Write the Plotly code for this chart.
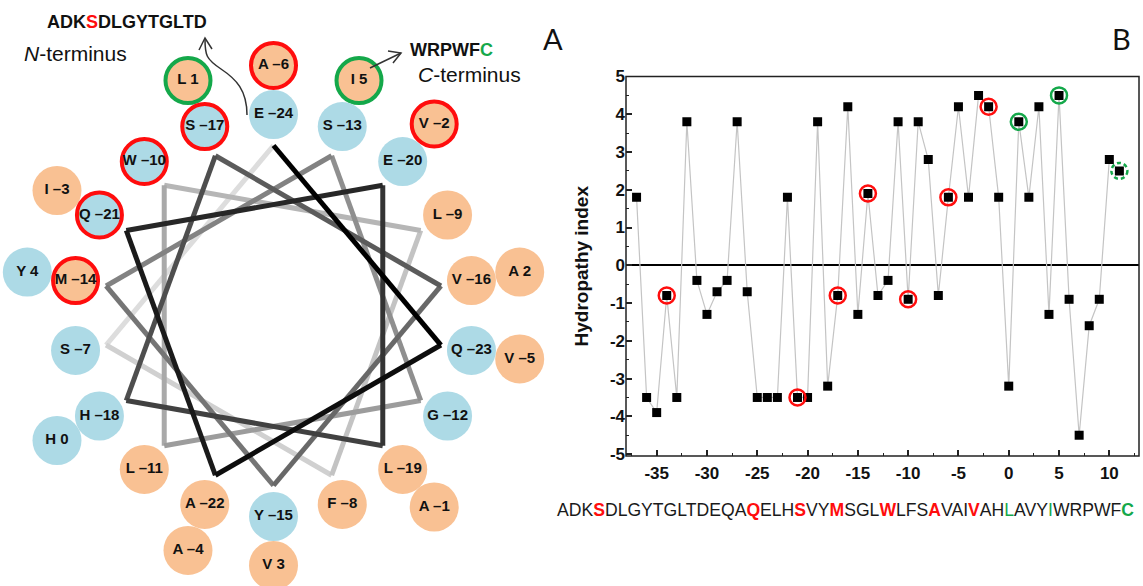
import numpy as np
import plotly.graph_objects as go

# ---------------- data ----------------
sequence = "ADKSDLGYTGLTDEQAQELHSVYMSGLWLFSAVAIVAHLAVYIWRPWFC"
positions = list(range(-37, 12))
hydropathy = [1.8, -3.5, -3.9, -0.8, -3.5, 3.8, -0.4, -1.3, -0.7, -0.4,
              3.8, -0.7, -3.5, -3.5, -3.5, 1.8, -3.5, -3.5, 3.8, -3.2,
              -0.8, 4.2, -1.3, 1.9, -0.8, -0.4, 3.8, -0.9, 3.8, 2.8,
              -0.8, 1.8, 4.2, 1.8, 4.5, 4.2, 1.8, -3.2, 3.8, 1.8,
              4.2, -1.3, 4.5, -0.9, -4.5, -1.6, -0.9, 2.8, 2.5]
red_sites = [-34, -21, -17, -14, -10, -6, -2]
green_sites = [1, 5]
green_dashed_sites = [11]
wheel_first, wheel_last = -24, 5
hydrophobic = set("AVILMF")
x_ticks = [-35, -30, -25, -20, -15, -10, -5, 0, 5, 10]
y_ticks = [-5, -4, -3, -2, -1, 0, 1, 2, 3, 4, 5]

# ---------------- styles ----------------
W, H = 1143, 586
RED = "#ff0d0d"
GREEN = "#14a84a"
PEACH = "#f9c193"
BLUE = "#addae6"
FONT = "Liberation Sans, Arial, sans-serif"

fig = go.Figure()

# ---------------- panel A : helical wheel ----------------
aa_of = dict(zip(positions, sequence))
hyd_of = dict(zip(positions, hydropathy))
cx, cy = 273.5, 315.5
r_vertex, r_inner, r_outer = 170, 201, 250
wheel = list(range(wheel_first, wheel_last + 1))
n_turn = 18


def angle(res):
    return np.deg2rad(-90 + 100 * (res - wheel_first))


def point(res, r):
    a = angle(res)
    return cx + r * np.cos(a), cy + r * np.sin(a)


# connecting path, dark at the start of the wheel and fading out
path_res = wheel[: n_turn + 1]
n_seg = len(path_res) - 1
for k in reversed(range(n_seg)):
    g = int(round(0 + 221 * k / (n_seg - 1)))
    p0 = point(path_res[k], r_vertex)
    p1 = point(path_res[k + 1], r_vertex)
    fig.add_trace(go.Scatter(
        x=[p0[0], p1[0]], y=[p0[1], p1[1]], mode="lines",
        line=dict(color=f"rgb({g},{g},{g})", width=5),
        xaxis="x2", yaxis="y2", hoverinfo="skip"))


def ring_trace(res_list, radius):
    xs, ys, fills, edges, widths, sizes, labels = [], [], [], [], [], [], []
    for r in res_list:
        px, py = point(r, radius)
        xs.append(px)
        ys.append(py)
        aa = aa_of[r]
        fills.append(PEACH if aa in hydrophobic else BLUE)
        if r in red_sites:
            edges.append(RED); widths.append(4); sizes.append(45)
        elif r in green_sites:
            edges.append(GREEN); widths.append(4); sizes.append(45)
        else:
            edges.append("rgba(0,0,0,0)"); widths.append(0); sizes.append(49)
        num = f"\u2013{abs(r)}" if r < 0 else f"{r}"
        labels.append(f"{aa} {num}")
    return go.Scatter(
        x=xs, y=ys, mode="markers+text", text=labels,
        textposition="middle center",
        textfont=dict(family=FONT, size=15, color="#111", weight="bold"),
        marker=dict(size=sizes, color=fills, opacity=1,
                    line=dict(color=edges, width=widths)),
        xaxis="x2", yaxis="y2", hoverinfo="skip")


outer = [r for r in wheel if r - wheel_first >= n_turn]
inner = [r for r in wheel if r - wheel_first < n_turn]
fig.add_trace(ring_trace(outer, r_outer))
fig.add_trace(ring_trace(inner, r_inner))

# N / C terminus notes
n_part = "".join(
    f"<span style='color:{RED}'>{aa_of[p]}</span>" if p in red_sites else aa_of[p]
    for p in positions if p < wheel_first)
c_part = "".join(
    f"<span style='color:{GREEN}'>{aa_of[p]}</span>"
    if p in green_dashed_sites else aa_of[p]
    for p in positions if p > wheel_last)

notes = [
    dict(x=127, y=22, text=f"<b>{n_part}</b>", size=18),
    dict(x=75, y=53, text="<i>N</i>-terminus", size=21),
    dict(x=451, y=50, text=f"<b>{c_part}</b>", size=18),
    dict(x=469, y=74, text="<i>C</i>-terminus", size=21),
]
for n in notes:
    fig.add_annotation(x=n["x"], y=n["y"], xref="x2", yref="y2", text=n["text"],
                       showarrow=False, xanchor="center", yanchor="middle",
                       font=dict(family=FONT, size=n["size"], color="#111"))

arrow_paths = [
    "M 247 115 C 247 90 236 79 221 69 S 205 55 205 39",
    "M 199 50 L 205 38 L 212 49",
    "M 370 68 L 401 53",
    "M 388 51 L 401 53 L 393 63",
]
for pth in arrow_paths:
    fig.add_shape(type="path", path=pth, xref="x2", yref="y2",
                  line=dict(color="#333", width=1.5))

# ---------------- panel B : hydropathy plot ----------------
fig.add_trace(go.Scatter(
    x=positions, y=hydropathy, mode="lines+markers",
    line=dict(color="#c4c4c4", width=1.2),
    marker=dict(symbol="square", size=9, color="black"),
    xaxis="x", yaxis="y", hoverinfo="skip"))

for sites, col in ((red_sites, RED), (green_sites, GREEN)):
    fig.add_trace(go.Scatter(
        x=sites, y=[hyd_of[s] for s in sites], mode="markers",
        marker=dict(symbol="circle-open", size=16, color=col,
                    line=dict(color=col, width=2.5)),
        xaxis="x", yaxis="y", hoverinfo="skip"))

for s in green_dashed_sites:
    fig.add_shape(type="circle", xref="x", yref="y",
                  xsizemode="pixel", ysizemode="pixel",
                  xanchor=s, yanchor=hyd_of[s],
                  x0=-8, x1=8, y0=-8, y1=8,
                  line=dict(color=GREEN, width=2.5, dash="4px,3px"))

# frame around the hydropathy plot
fig.add_shape(type="rect", xref="x domain", yref="y domain",
              x0=0, x1=1, y0=0, y1=1, line=dict(color="#222", width=1.5),
              layer="above")

# sequence written under the plot
seq_html = ""
for p in positions:
    aa = aa_of[p]
    if p in red_sites:
        seq_html += f"<b><span style='color:{RED}'>{aa}</span></b>"
    elif p in green_dashed_sites:
        seq_html += f"<b><span style='color:{GREEN}'>{aa}</span></b>"
    elif p in green_sites:
        seq_html += f"<span style='color:{GREEN}'>{aa}</span>"
    else:
        seq_html += aa
fig.add_annotation(x=845 / W, y=1 - 510 / H, xref="paper", yref="paper",
                   text=seq_html, showarrow=False, xanchor="center",
                   yanchor="middle",
                   font=dict(family=FONT, size=17.6, color="#1a1a1a"))

# panel letters
for txt, xp in (("A", 553), ("B", 1121)):
    fig.add_annotation(x=xp / W, y=1 - 39 / H, xref="paper", yref="paper",
                       text=txt, showarrow=False, xanchor="center",
                       yanchor="middle",
                       font=dict(family="Lato, Open Sans, sans-serif", size=29,
                                 color="#111"))

tickfont = dict(family=FONT, size=17, color="#111", weight="bold")
fig.update_layout(
    width=W, height=H,
    margin=dict(l=0, r=0, t=0, b=0, pad=0, autoexpand=False),
    paper_bgcolor="white", plot_bgcolor="white", showlegend=False,
    xaxis=dict(domain=[626 / W, 1139 / W], range=[-38.05, 12.95],
               tickmode="array", tickvals=x_ticks,
               ticktext=[str(v) for v in x_ticks],
               ticks="inside", ticklen=6, tickwidth=1.5, tickcolor="#222",
               ticklabelstandoff=5,
               minor=dict(tickmode="array",
                          tickvals=list(np.arange(-37.5, 13, 2.5)),
                          ticks="inside", ticklen=3, tickwidth=1.2,
                          tickcolor="#222", showgrid=False),
               showline=False, showgrid=False, zeroline=False,
               automargin=False, tickfont=tickfont, anchor="y"),
    yaxis=dict(domain=[1 - 456 / H, 1 - 76.5 / H], range=[-5.05, 5],
               tickmode="array", tickvals=y_ticks,
               ticktext=[str(v) for v in y_ticks],
               ticks="inside", ticklen=6, tickwidth=1.5, tickcolor="#222",
               minor=dict(tickmode="array",
                          tickvals=list(np.arange(-4.5, 5, 1.0)),
                          ticks="inside", ticklen=3, tickwidth=1.2,
                          tickcolor="#222", showgrid=False),
               showline=False, showgrid=False, zeroline=True,
               zerolinecolor="black", zerolinewidth=2, tickfont=tickfont,
               automargin=False,
               title=dict(text="Hydropathy index", standoff=16,
                          font=dict(family=FONT, size=19, color="#111",
                                    weight="bold")),
               anchor="x"),
    xaxis2=dict(domain=[0, 560 / W], range=[0, 560], visible=False,
                automargin=False, anchor="y2"),
    yaxis2=dict(domain=[0, 1], range=[H, 0], visible=False,
                automargin=False, anchor="x2"),
)

fig.write_html("out.html", config={"displayModeBar": False})
